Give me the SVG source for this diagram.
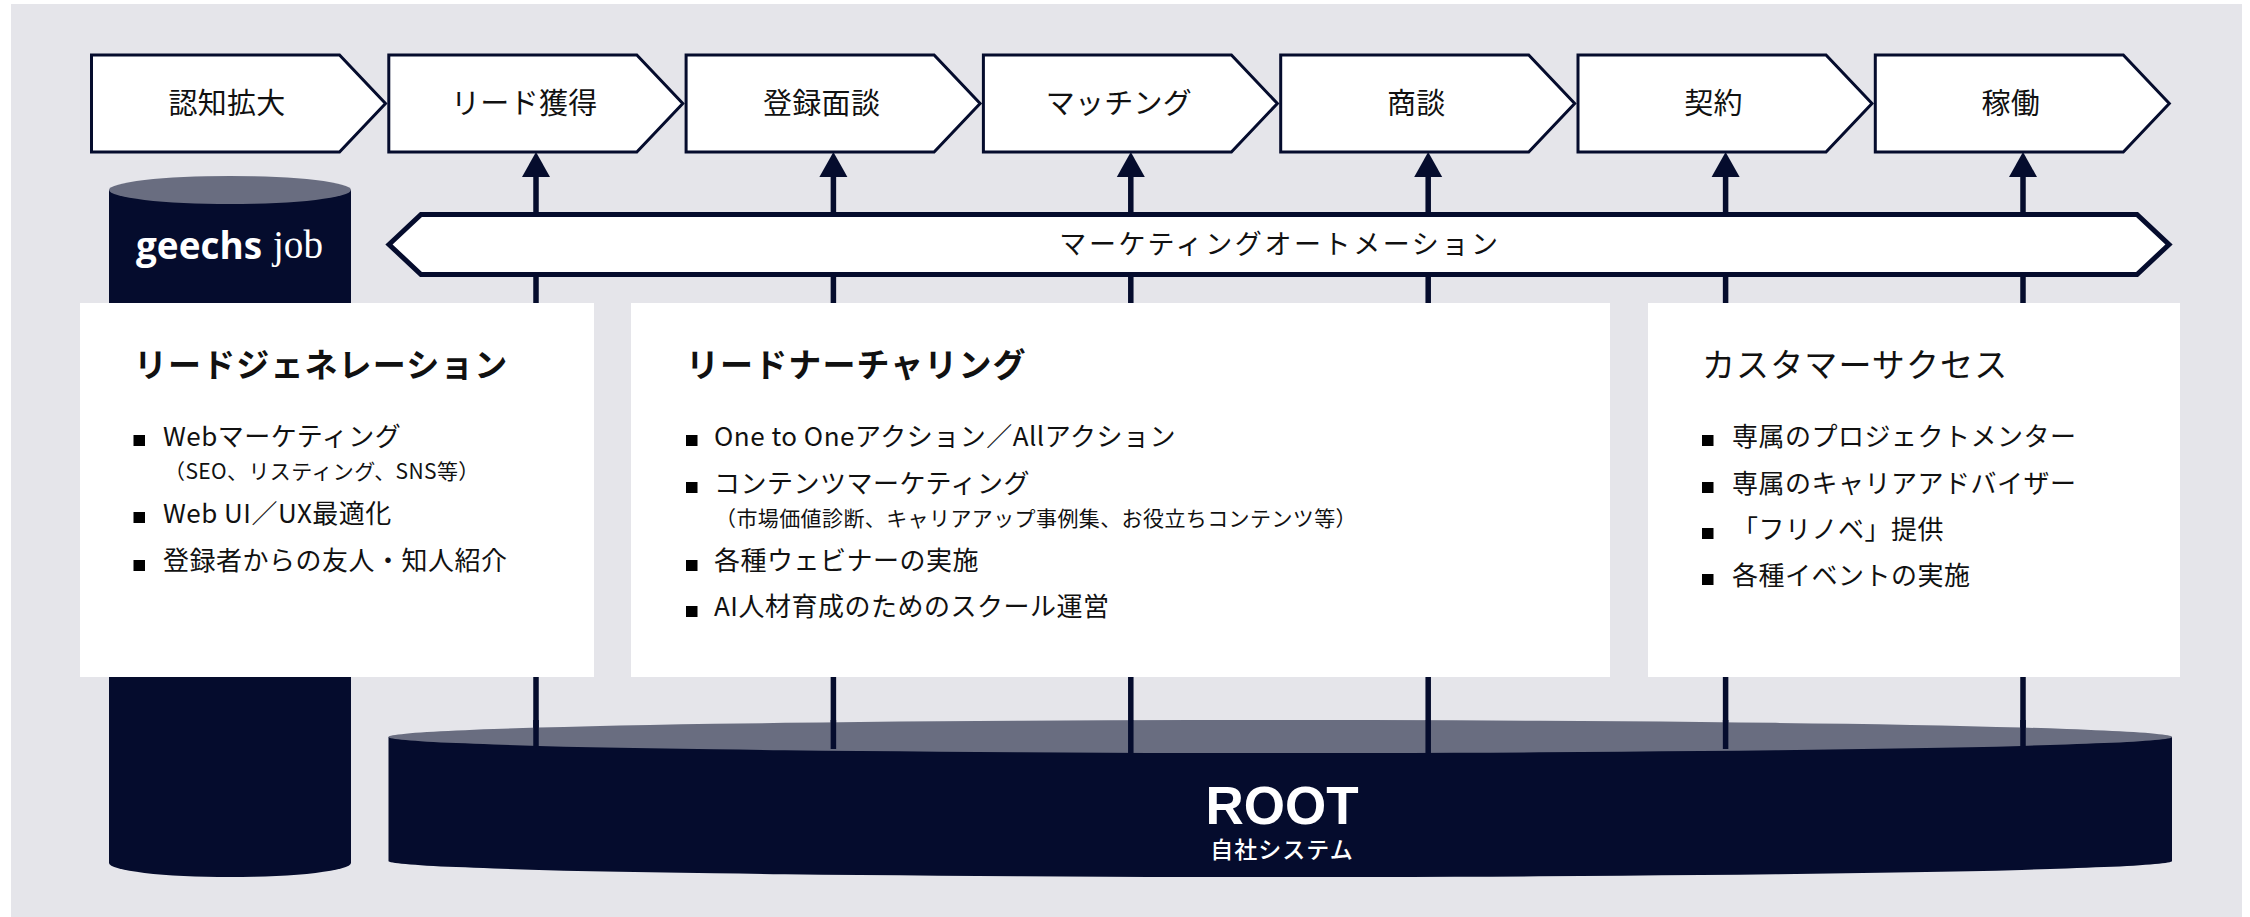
<svg xmlns="http://www.w3.org/2000/svg" width="2250" height="917" viewBox="0 0 2250 917">
<style>
text{font-family:"Noto Sans CJK JP","Noto Sans",sans-serif;fill:#111}
.step{fill:#fff;stroke:#050c2d;stroke-width:3}
.steptx{font-size:29px;text-anchor:middle;letter-spacing:.3px}
.dark{fill:#050c2d}
.top{fill:#696d80}
.card{fill:#fff}
.title{font-size:33px;letter-spacing:1.1px}
.item{font-size:26px;letter-spacing:.5px}
.sub{font-size:21px;letter-spacing:.4px}
.conn{stroke:#050c2d;stroke-width:5.500;fill:none}
.bul{fill:#000}
</style>
<defs>
<polygon id="stepShape" class="step" points="0,0 248,0 294,48.500 248,97 0,97"/>
<polygon id="head" class="dark" points="0,152 14,177 -14,177"/>
<rect id="bullet" class="bul" width="11.500" height="11"/>
</defs>
<rect width="2250" height="917" fill="#fff"/>
<rect x="11" y="4" width="2231" height="913" fill="#e5e5ea"/>

<g id="connectors">
<g class="conn">
<path d="M536 175V303M833.400 175V303M1130.800 175V303M1428.200 175V303M1725.600 175V303M2023 175V303"/>
<path d="M536 677V750M833.400 677V750M1130.800 677V750M1428.200 677V750M1725.600 677V750M2023 677V750"/>
</g>
<use href="#head" x="536"/><use href="#head" x="833.400"/><use href="#head" x="1130.800"/><use href="#head" x="1428.200"/><use href="#head" x="1725.600"/><use href="#head" x="2023"/>
</g>

<g id="step-1"><use href="#stepShape" x="91.500" y="55"/><text class="steptx" x="227" y="114">認知拡大</text></g>
<g id="step-2"><use href="#stepShape" x="388.800" y="55"/><text class="steptx" x="524.300" y="114">リード獲得</text></g>
<g id="step-3"><use href="#stepShape" x="686.100" y="55"/><text class="steptx" x="821.600" y="114">登録面談</text></g>
<g id="step-4"><use href="#stepShape" x="983.400" y="55"/><text class="steptx" x="1118.900" y="114">マッチング</text></g>
<g id="step-5"><use href="#stepShape" x="1280.700" y="55"/><text class="steptx" x="1416.200" y="114">商談</text></g>
<g id="step-6"><use href="#stepShape" x="1578" y="55"/><text class="steptx" x="1713.500" y="114">契約</text></g>
<g id="step-7"><use href="#stepShape" x="1875.300" y="55"/><text class="steptx" x="2010.800" y="114">稼働</text></g>

<g id="marketing-automation">
<polygon points="389,244.500 421,214.500 2137,214.500 2169,244.500 2137,274.500 421,274.500" fill="#fff" stroke="#050c2d" stroke-width="5"/>
<text x="1280" y="254" font-size="27" text-anchor="middle" letter-spacing="2.600">マーケティングオートメーション</text>
</g>

<g id="geechs-job">
<path class="dark" d="M109 190V863A121 14 0 0 0 351 863V190Z"/>
<ellipse class="top" cx="230" cy="190" rx="121" ry="14"/>
<text x="136" y="259" style="font-family:'Open Sans',sans-serif;font-weight:700;fill:#fff" font-size="38" textLength="126" lengthAdjust="spacingAndGlyphs">geechs</text>
<text x="273" y="258" style="font-family:'Liberation Serif',serif;fill:#fff" font-size="40" textLength="50" lengthAdjust="spacingAndGlyphs">job</text>
</g>

<g id="root">
<path class="dark" d="M388.500 737V861A891.500 16 0 0 0 2172 861V737Z"/>
<path class="top" d="M388.500 737A891.500 17 0 0 1 2172 737A891.500 16 0 0 1 388.500 737Z"/>
<path class="conn" d="M536 720V747M833.400 720V749M1130.800 720V753M1428.200 720V753M1725.600 720V749M2023 720V747"/>
<text x="1282" y="824" font-size="53" text-anchor="middle" style="font-family:'Liberation Sans',sans-serif;font-weight:700;fill:#fff">ROOT</text>
<text x="1282" y="858" font-size="23" text-anchor="middle" letter-spacing="1" style="font-weight:500;fill:#fff">自社システム</text>
</g>

<g id="lead-generation">
<rect class="card" x="80" y="303" width="514" height="374"/>
<text class="title" x="134" y="377" font-weight="700">リードジェネレーション</text>
<use href="#bullet" x="133.500" y="435"/><text class="item" x="163" y="446">Webマーケティング</text>
<text class="sub" x="164" y="479">（SEO、リスティング、SNS等）</text>
<use href="#bullet" x="133.500" y="512"/><text class="item" x="163" y="522.500">Web UI／UX最適化</text>
<use href="#bullet" x="133.500" y="560"/><text class="item" x="163" y="570">登録者からの友人・知人紹介</text>
</g>

<g id="lead-nurturing">
<rect class="card" x="631" y="303" width="979" height="374"/>
<text class="title" x="686" y="377" font-weight="700">リードナーチャリング</text>
<use href="#bullet" x="686" y="435"/><text class="item" x="714" y="446">One to Oneアクション／Allアクション</text>
<use href="#bullet" x="686" y="482"/><text class="item" x="714" y="493">コンテンツマーケティング</text>
<text class="sub" x="715" y="525.500">（市場価値診断、キャリアアップ事例集、お役立ちコンテンツ等）</text>
<use href="#bullet" x="686" y="560"/><text class="item" x="714" y="570">各種ウェビナーの実施</text>
<use href="#bullet" x="686" y="606"/><text class="item" x="714" y="616">AI人材育成のためのスクール運営</text>
</g>

<g id="customer-success">
<rect class="card" x="1648" y="303" width="532" height="374"/>
<text class="title" x="1702" y="377" letter-spacing="2">カスタマーサクセス</text>
<use href="#bullet" x="1702" y="435"/><text class="item" x="1732" y="446">専属のプロジェクトメンター</text>
<use href="#bullet" x="1702" y="482"/><text class="item" x="1732" y="493">専属のキャリアアドバイザー</text>
<use href="#bullet" x="1702" y="528"/><text class="item" x="1732" y="539">「フリノベ」提供</text>
<use href="#bullet" x="1702" y="574"/><text class="item" x="1732" y="585">各種イベントの実施</text>
</g>
</svg>
